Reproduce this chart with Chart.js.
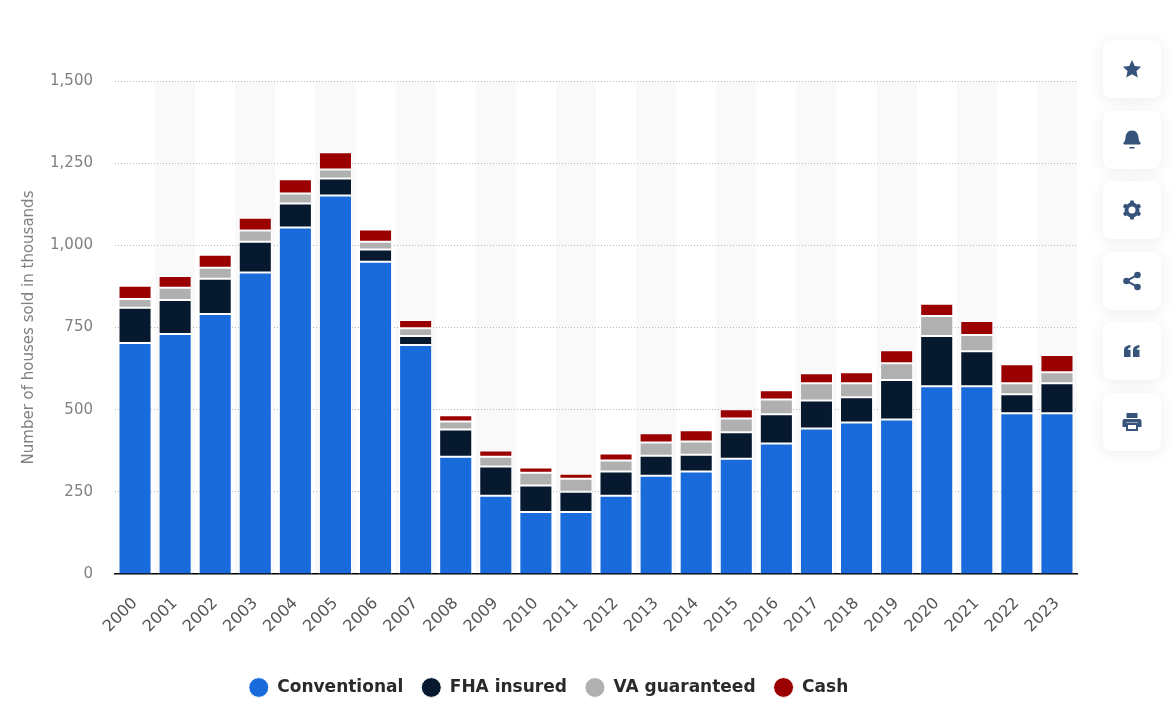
<!DOCTYPE html>
<html>
<head>
<meta charset="utf-8">
<title>Houses sold by financing type</title>
<script src="https://cdn.jsdelivr.net/npm/chart.js@4/dist/chart.umd.min.js"></script>
<style>
  html, body { margin: 0; padding: 0; background: #fff; overflow: hidden; }
  #wrap { position: relative; width: 1172px; height: 726px; }
  canvas { position: absolute; left: 0; top: 0; }
  .btn { position: absolute; left: 1103px; width: 58px; height: 58px; background: #fff; border-radius: 8px;
         box-shadow: 0 2px 14px rgba(60, 80, 110, 0.10); display: flex; align-items: center; justify-content: center; }
  .btn svg { width: 20px; height: 20px; fill: #36537a; }
</style>
</head>
<body>
<div id="wrap">
  <canvas id="chart" width="1172" height="726"></canvas>
  <div class="btn" style="top:40px"><svg viewBox="0 0 20 20"><path d="M10 1l2.800 5.900 6.400.8-4.700 4.400 1.200 6.400L10 15.300l-5.700 3.200 1.200-6.400L.8 7.700l6.400-.8z"/></svg></div>
  <div class="btn" style="top:111px"><svg viewBox="0 0 20 20"><path d="M10 .5c4.300 0 6.300 3.500 6.500 7 .1 2.500.9 4 1.800 5 .6.700.4 2-.8 2h-15c-1.200 0-1.400-1.300-.8-2 .9-1 1.700-2.500 1.800-5 .2-3.500 2.200-7 6.500-7zM7.500 17h5v1.500h-5z"/></svg></div>
  <div class="btn" style="top:181px"><svg viewBox="0 0 20 20"><circle cx="10" cy="10" r="5.500" fill="none" stroke="#36537a" stroke-width="4"/><g id="teeth"><rect x="8" y="0.500" width="4" height="4" rx="1"/><rect x="8" y="15.500" width="4" height="4" rx="1"/><rect x="8" y="0.500" width="4" height="4" rx="1" transform="rotate(60 10 10)"/><rect x="8" y="15.500" width="4" height="4" rx="1" transform="rotate(60 10 10)"/><rect x="8" y="0.500" width="4" height="4" rx="1" transform="rotate(120 10 10)"/><rect x="8" y="15.500" width="4" height="4" rx="1" transform="rotate(120 10 10)"/></g></svg></div>
  <div class="btn" style="top:252px"><svg viewBox="0 0 20 20"><circle cx="15.500" cy="4" r="3.300"/><circle cx="4.500" cy="10" r="3.300"/><circle cx="15.500" cy="16" r="3.300"/><path d="M4 9l11-6 1 1.800-11 6zM5 9l11 6-1 1.800-11-6z"/></svg></div>
  <div class="btn" style="top:322px"><svg viewBox="0 0 20 20"><path d="M2 16V9.500C2 6.500 3.800 4.600 8.500 4v2.500c-1.800.3-2.700 1-2.800 2.300h2.800V16zM11 16V9.500c0-3 1.800-4.900 6.500-5.500v2.500c-1.800.3-2.700 1-2.800 2.300h2.800V16z"/></svg></div>
  <div class="btn" style="top:393px"><svg viewBox="0 0 20 20"><path d="M4.500 1h11v5h-11zM2.500 7h15c1 0 2 .8 2 2v6H16v-4.500H4V15H.5V9c0-1.200 1-2 2-2z"/><path fill-rule="evenodd" d="M4 11h12v8H4zm2 2v4h8v-4z"/></svg></div>
</div>
<script>
const years = ['2000','2001','2002','2003','2004','2005','2006','2007','2008','2009','2010','2011','2012','2013','2014','2015','2016','2017','2018','2019','2020','2021','2022','2023'];
const conventional = [703,730,791,917,1054,1152,950,697,357,238,189,189,238,299,312,351,397,443,461,470,571,571,489,489];
const fhaInsured = [107,104,107,94,73,51,37,27,83,89,80,61,74,61,51,80,89,85,77,120,153,107,58,91];
const vaGuaranteed = [27,37,34,34,31,28,24,24,24,30,39,40,33,40,40,42,45,52,42,51,61,49,33,34];
const cash = [40,36,39,39,43,52,37,25,19,19,16,15,22,28,34,28,28,31,34,40,37,43,58,52];
const yTicks = [0,250,500,750,1000,1250,1500];

const FONT = '"DejaVu Sans", sans-serif';

// grey stripes behind every second year
const stripes = {
    id: 'stripes',
    beforeDraw(chart) {
        const { ctx, chartArea, scales } = chart;
        const w = scales.x.getPixelForValue(1) - scales.x.getPixelForValue(0);
        ctx.save();
        ctx.fillStyle = '#f9f9f9';
        years.forEach((y, i) => {
            if (i % 2 === 1) ctx.fillRect(scales.x.getPixelForValue(i) - w / 2, chartArea.top, w, chartArea.bottom - chartArea.top);
        });
        ctx.restore();
    }
};

function series(label, data, color, skipped) {
    return { label, data, backgroundColor: color, borderColor: '#fff', borderWidth: 1, borderSkipped: skipped, barPercentage: 0.825, categoryPercentage: 1 };
}

new Chart(document.getElementById('chart'), {
    type: 'bar',
    data: {
        labels: years,
        datasets: [
            series('Conventional', conventional, '#196ADB', 'start'),
            series('FHA insured', fhaInsured, '#06192E', false),
            series('VA guaranteed', vaGuaranteed, '#B0B0B0', false),
            series('Cash', cash, '#9B0000', false)
        ]
    },
    options: {
        responsive: false,
        animation: false,
        layout: { padding: { left: 20, right: 95, top: 81, bottom: 20 } },
        plugins: {
            tooltip: { enabled: false },
            legend: {
                position: 'bottom',
                labels: {
                    usePointStyle: true, pointStyle: 'circle', pointStyleWidth: 20, boxHeight: 14,
                    padding: 18, color: '#2a2a2a', font: { family: FONT, size: 17, weight: 'bold' }
                }
            }
        },
        scales: {
            x: {
                stacked: true,
                afterFit(s) { s.height = 87; },
                grid: { display: false },
                border: { display: true, color: '#000', width: 1.5 },
                ticks: { minRotation: 45, maxRotation: 45, padding: 12, autoSkip: false, color: '#555', font: { family: FONT, size: 16 } }
            },
            y: {
                stacked: true,
                min: 0,
                max: 1500,
                afterFit(s) { s.width = 95; },
                afterBuildTicks(s) { s.ticks = yTicks.map(value => ({ value })); },
                grid: { color: c => c.tick.value === 0 ? 'transparent' : '#b8b8b8', lineWidth: 1, drawTicks: false },
                border: { display: false, dash: [1, 2] },
                title: { display: true, text: 'Number of houses sold in thousands', color: '#808080', font: { family: FONT, size: 15 }, padding: 0 },
                ticks: { padding: 22, color: '#808080', font: { family: FONT, size: 15 }, callback: v => v.toLocaleString('en-US') }
            }
        }
    },
    plugins: [stripes]
});
</script>
</body>
</html>
